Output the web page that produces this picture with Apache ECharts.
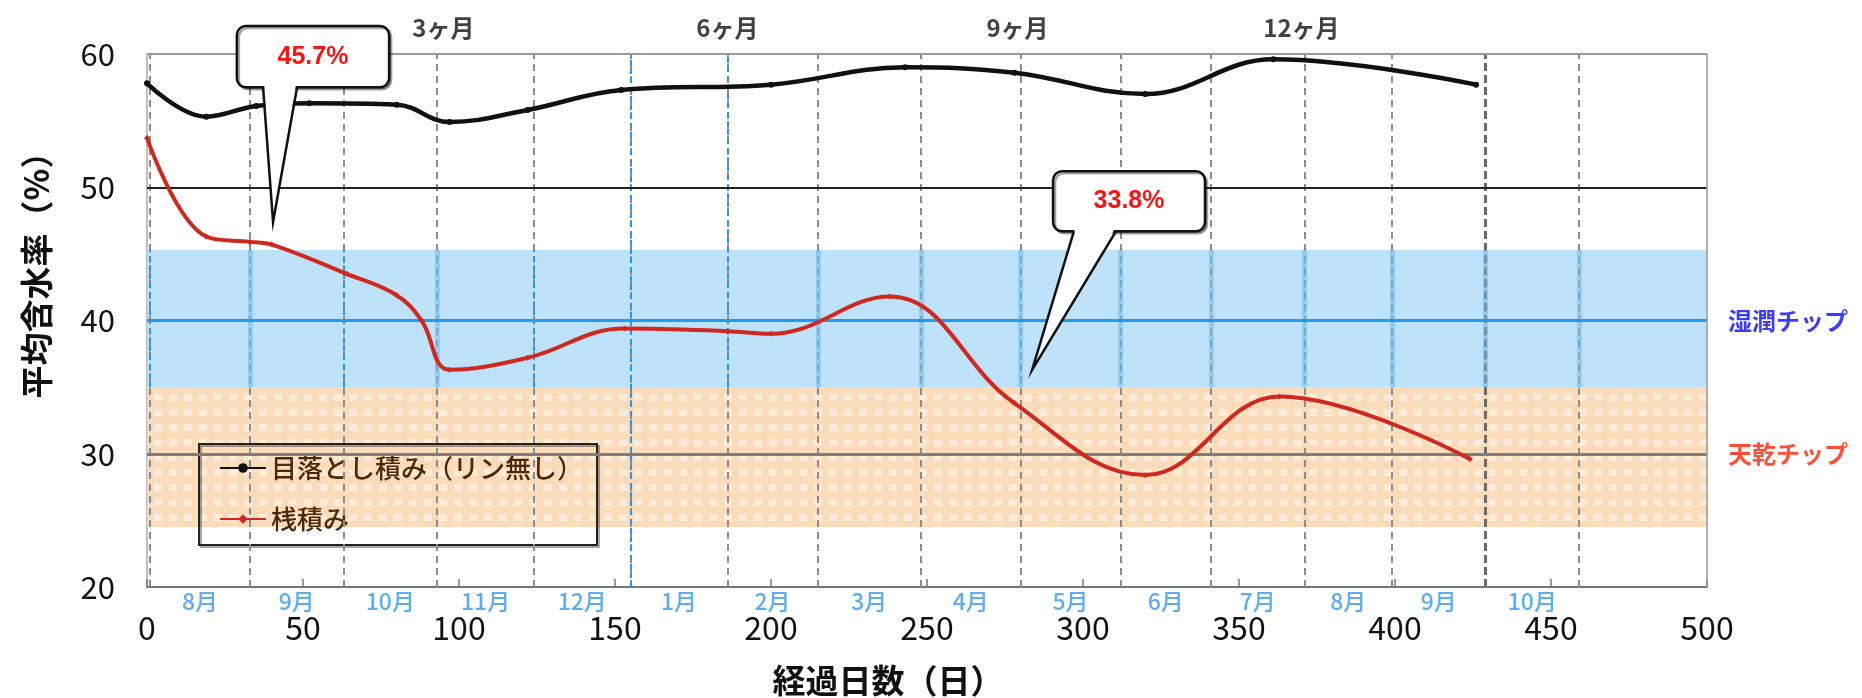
<!DOCTYPE html>
<html><head><meta charset="utf-8">
<script src="https://cdn.jsdelivr.net/npm/echarts@6/dist/echarts.min.js"></script>
<style>html,body{margin:0;padding:0;background:#fff}#c{width:1862px;height:698px}</style>
</head><body><div id="c"></div>
<script>
// ---------- data ----------
const seriesNames = ['目落とし積み（リン無し）', '桟積み'];
const blackDays = [0, 19, 35, 52, 80, 97, 122, 152, 200, 243, 278, 320, 361, 426];
const blackVals = [57.8, 55.3, 56.1, 56.3, 56.2, 54.9, 55.8, 57.3, 57.7, 59.0, 58.6, 57.0, 59.6, 57.7];
const redDays = [0, 19, 33, 40, 64, 80, 88, 97, 122, 153, 186, 200, 238, 278, 320, 363, 424];
const redVals = [53.7, 46.3, 45.9, 45.7, 43.5, 41.9, 40.0, 36.3, 37.2, 39.4, 39.2, 39.0, 41.8, 33.8, 28.4, 34.3, 29.6];
const monthLines = [1, 33, 63, 93, 124, 155, 186, 215, 248, 280, 312, 341, 371, 399, 429, 459];
const monthLabels = ['8月','9月','10月','11月','12月','1月','2月','3月','4月','5月','6月','7月','8月','9月','10月'];
const periodLabels = ['3ヶ月', '6ヶ月', '9ヶ月', '12ヶ月'];
const periodDays = [95, 186, 279, 370];
const wetBand = [35, 45.3];
const dryBand = [24.5, 35];
const bandNames = ['湿潤チップ', '天乾チップ'];
const bandColors = ['#0a0aff', '#ff2200'];
const bandLabelY = [40, 30];
const xRange = [0, 500, 50];
const yRange = [20, 60, 10];
const calloutTexts = ['45.7%', '33.8%'];
// box: [xLeft, xRight, yTop, yBottom], tip: [x, y], base: [x1, x2]  (data units)
const calloutBoxes = [[28.8, 77.6, 62.1, 57.5], [290.4, 339.1, 51.2, 46.7]];
const calloutTips = [[40.4, 47.4], [283.7, 36.3]];
const calloutBases = [[37.2, 48.1], [297.1, 310.6]];
const xTitle = '経過日数（日）';
const yTitle = '平均含水率（%）';

// ---------- chart ----------
const FONT = '"Noto Sans CJK JP", "Noto Sans", sans-serif';
const chart = echarts.init(document.getElementById('c'), null, {renderer: 'canvas'});

function makeDots() {
  const c = document.createElement('canvas');
  c.width = 15; c.height = 15;
  const g = c.getContext('2d');
  g.fillStyle = '#fbd6ae'; g.fillRect(0, 0, 15, 15);
  g.fillStyle = '#fde9d5'; g.fillRect(4, 4, 8, 7);
  return c;
}

const monthMids = monthLabels.map((_, i) => (monthLines[i] + monthLines[i + 1]) / 2);

const grayV = monthLines.map(d => ({
  xAxis: d,
  lineStyle: d === 429 ? {color: '#6c6c6c', width: 3, type: [8, 4]} : {color: '#8c8c8c', width: 2, type: [7, 5]}
}));

const blueStyle = {color: '#2a93f2', width: 2, type: [5, 4]};
const stripStyle = {color: 'rgba(110,185,240,0.55)', width: 5, type: 'solid'};
const blueDashed = [1, 63, 124];
const blueSeg = [];
monthLines.forEach(d => {
  if (d === 155 || d === 186) return;
  blueSeg.push([{coord: [d, wetBand[0]], lineStyle: blueDashed.includes(d) ? blueStyle : stripStyle}, {coord: [d, wetBand[1]]}]);
});
blueSeg.push([{coord: [155, yRange[0]], lineStyle: blueStyle}, {coord: [155, yRange[1]]}]);
blueSeg.push([{coord: [186, wetBand[0]], lineStyle: blueStyle}, {coord: [186, yRange[1]]}]);

const option = {
  animation: false,
  textStyle: {fontFamily: FONT},
  grid: {left: 147, right: 155, top: 54, bottom: 111},
  legend: {
    data: seriesNames,
    orient: 'vertical',
    left: 199, top: 444,
    padding: [11, 14, 13, 20],
    itemGap: 25,
    itemWidth: 46, itemHeight: 12,
    borderColor: '#222', borderWidth: 2,
    backgroundColor: 'transparent',
    shadowColor: 'rgba(0,0,0,0.35)', shadowOffsetX: 2, shadowOffsetY: 2,
    textStyle: {color: '#4a2a08', fontSize: 26, fontWeight: 500, fontFamily: FONT}
  },
  xAxis: {
    type: 'value', min: xRange[0], max: xRange[1], interval: xRange[2],
    axisLine: {show: true, lineStyle: {color: '#777', width: 2}},
    axisTick: {show: true, inside: true, length: 8, lineStyle: {color: '#777', width: 1.5}},
    axisLabel: {fontSize: 32, color: '#111', margin: 25, fontFamily: FONT},
    splitLine: {show: false}
  },
  yAxis: {
    type: 'value', min: yRange[0], max: yRange[1], interval: yRange[2],
    axisLine: {show: true, lineStyle: {color: '#aaa', width: 1.5}},
    axisTick: {show: false},
    axisLabel: {fontSize: 31, color: '#111', margin: 32, fontFamily: FONT},
    splitLine: {show: false}
  },
  series: [
    { // vertical month lines
      type: 'line', data: [], z: 1, silent: true,
      markLine: {silent: true, symbol: 'none', label: {show: false}, data: grayV}
    },
    { // bands
      type: 'line', data: [], z: 2, silent: true,
      markArea: {
        silent: true,
        data: [
          [{yAxis: wetBand[0], itemStyle: {color: '#b3ddf9', opacity: 0.85}}, {yAxis: wetBand[1]}],
          [{yAxis: dryBand[0], itemStyle: {color: {image: makeDots(), repeat: 'repeat'}, opacity: 0.85}}, {yAxis: dryBand[1]}]
        ]
      }
    },
    { // horizontal reference lines and blue segments
      type: 'line', data: [], z: 3, silent: true,
      markLine: {
        silent: true, symbol: 'none', label: {show: false},
        data: blueSeg.concat([
          {yAxis: 60, lineStyle: {color: '#9a9a9a', width: 2, type: 'solid'}},
          {yAxis: 50, lineStyle: {color: '#222', width: 2, type: 'solid'}},
          {yAxis: 40, lineStyle: {color: '#1e9cf0', width: 3, type: 'solid'}},
          {yAxis: 30, lineStyle: {color: '#7d7d7d', width: 3, type: 'solid'}},
          {xAxis: 500, lineStyle: {color: '#999', width: 1.5, type: 'solid'}}
        ])
      }
    },
    {
      name: seriesNames[0], type: 'line', z: 6,
      data: blackDays.map((d, i) => [d, blackVals[i]]),
      smooth: 0.4,
      symbol: 'circle', symbolSize: 6,
      lineStyle: {color: '#111', width: 4.5},
      itemStyle: {color: '#111'}
    },
    {
      name: seriesNames[1], type: 'line', z: 5,
      data: redDays.map((d, i) => [d, redVals[i]]),
      smooth: 0.4,
      symbol: 'diamond', symbolSize: 6,
      lineStyle: {color: '#d0281c', width: 4},
      itemStyle: {color: '#d0281c'}
    },
    { // month labels
      type: 'scatter', z: 4, silent: true, symbolSize: 0,
      data: monthMids.map(m => [m, yRange[0]]),
      label: {show: true, position: 'bottom', distance: 3, fontSize: 23, fontWeight: 500, color: '#3399ee', fontFamily: FONT,
        formatter: p => monthLabels[p.dataIndex]}
    },
    { // period labels
      type: 'scatter', z: 4, silent: true, symbolSize: 0,
      data: periodDays.map(d => [d, yRange[1]]),
      label: {show: true, position: 'top', distance: 14, fontSize: 24, fontWeight: 'bold', color: '#111', fontFamily: FONT,
        formatter: p => periodLabels[p.dataIndex]}
    },
    { // band names
      type: 'scatter', z: 4, silent: true, symbolSize: 0,
      data: bandLabelY.map((v, i) => ({value: [xRange[1], v], label: {color: bandColors[i]}})),
      label: {show: true, position: 'right', distance: 21, fontSize: 24, fontWeight: 'bold', fontFamily: FONT,
        formatter: p => bandNames[p.dataIndex]}
    }
  ]
};
chart.setOption(option);

// ---------- callouts and titles ----------
const graphics = [];
const px = p => chart.convertToPixel({gridIndex: 0}, p);
calloutTexts.forEach((t, i) => {
  const b = calloutBoxes[i];
  const tl = px([b[0], b[2]]), br = px([b[1], b[3]]);
  const tip = px(calloutTips[i]);
  const b1 = px([calloutBases[i][0], b[3]]), b2 = px([calloutBases[i][1], b[3]]);
  const bottom = br[1];
  graphics.push({type: 'rect', z: 100, shape: {x: tl[0], y: tl[1], width: br[0] - tl[0], height: br[1] - tl[1], r: 9},
    style: {fill: '#fff', stroke: '#111', lineWidth: 2.5, shadowColor: 'rgba(0,0,0,0.35)', shadowOffsetX: 2, shadowOffsetY: 2}});
  graphics.push({type: 'polygon', z: 101, shape: {points: [[b1[0] + 1, bottom - 3], tip, [b2[0] - 1, bottom - 3]]},
    style: {fill: '#fff'}});
  graphics.push({type: 'polyline', z: 102, shape: {points: [[b1[0], bottom], tip, [b2[0], bottom]]},
    style: {stroke: '#111', lineWidth: 2.5, fill: null}});
  graphics.push({type: 'text', z: 103, x: (tl[0] + br[0]) / 2, y: (tl[1] + br[1]) / 2,
    style: {text: t, fill: '#ff1010', fontSize: 25, fontWeight: 'bold', fontFamily: 'Liberation Sans',
      align: 'center', verticalAlign: 'middle'}});
});
graphics.push({type: 'text', x: 36, y: 267, rotation: Math.PI / 2,
  style: {text: yTitle, fill: '#111', fontSize: 33, fontWeight: 'bold', fontFamily: 'Noto Sans CJK JP',
    align: 'center', verticalAlign: 'middle'}});
graphics.push({type: 'text', x: 888, y: 680,
  style: {text: xTitle, fill: '#111', fontSize: 33, fontWeight: 'bold', fontFamily: 'Noto Sans CJK JP',
    align: 'center', verticalAlign: 'middle'}});
chart.setOption({graphic: graphics});
</script></body></html>
